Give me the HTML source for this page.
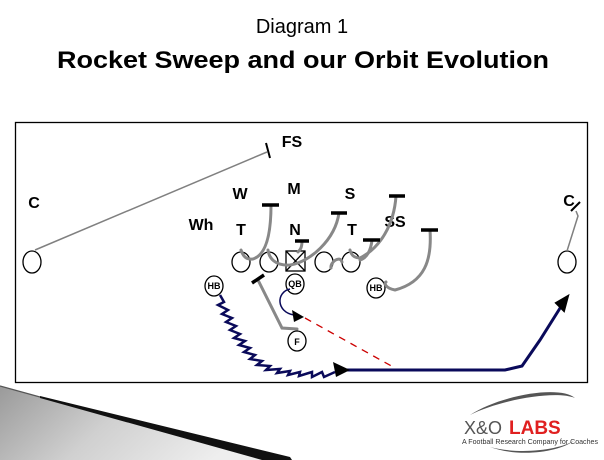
<!DOCTYPE html>
<html><head><style>
html,body{margin:0;padding:0;background:#fff;}
svg{display:block;}
text{font-family:"Liberation Sans",Arial,sans-serif;}
</style></head><body>
<svg width="604" height="460" viewBox="0 0 604 460" xmlns="http://www.w3.org/2000/svg">
<defs>
<linearGradient id="g" x1="0" y1="0" x2="1" y2="0.3">
<stop offset="0" stop-color="#9a9a9a"/><stop offset="0.5" stop-color="#d0d0d0"/><stop offset="1" stop-color="#eeeeee"/>
</linearGradient>
</defs>
<text x="302" y="33" font-size="20" text-anchor="middle">Diagram 1</text>
<text x="303" y="68" font-size="24" font-weight="bold" text-anchor="middle" textLength="492" lengthAdjust="spacingAndGlyphs">Rocket Sweep and our Orbit Evolution</text>

<polygon points="0,386 270,460 0,460" fill="url(#g)"/>
<polygon points="40,396 290,457 292,460 262,460 40,398" fill="#111"/>
<line x1="0" y1="386" x2="40" y2="397" stroke="#555" stroke-width="1.2"/>

<rect x="15.5" y="122.5" width="572" height="260" fill="none" stroke="#000" stroke-width="1.3"/>

<g fill="none" stroke="#000" stroke-width="1.3">
<ellipse cx="32" cy="262" rx="9" ry="11"/>
<ellipse cx="241" cy="262" rx="9" ry="10"/>
<ellipse cx="269" cy="262" rx="9" ry="10"/>
<rect x="286" y="251" width="19" height="20"/>
<line x1="286" y1="251" x2="305" y2="271"/><line x1="305" y1="251" x2="286" y2="271"/>
<ellipse cx="324" cy="262" rx="9" ry="10"/>
<ellipse cx="351" cy="262" rx="9" ry="10"/>
<ellipse cx="567" cy="262" rx="9" ry="11"/>
<ellipse cx="214" cy="286" rx="9" ry="10"/>
<ellipse cx="295" cy="284" rx="9" ry="10"/>
<ellipse cx="376" cy="288" rx="9" ry="10"/>
<ellipse cx="297" cy="341" rx="9" ry="10"/>
</g>
<g font-size="9" font-weight="bold" text-anchor="middle">
<text x="214" y="289">HB</text><text x="295" y="287">QB</text><text x="376" y="291">HB</text><text x="297" y="345">F</text>
</g>

<g font-size="16" font-weight="bold" text-anchor="middle">
<text x="292" y="147">FS</text><text x="34" y="208">C</text><text x="240" y="199">W</text><text x="294" y="194">M</text>
<text x="350" y="199">S</text><text x="201" y="230">Wh</text><text x="241" y="235">T</text><text x="295" y="235">N</text>
<text x="352" y="235">T</text><text x="395" y="227">SS</text><text x="569" y="206">C</text>
</g>

<g fill="none" stroke="#808080" stroke-width="1.5">
<line x1="35" y1="250" x2="267" y2="152"/>
<polyline points="567,251 578,216 576,211"/>
</g>
<g stroke="#000" stroke-width="2">
<line x1="266" y1="143" x2="270" y2="158"/>
<line x1="571" y1="211" x2="580" y2="202"/>
</g>
<g fill="none" stroke="#888" stroke-width="3" stroke-linecap="round">
<path d="M271,205 C271,235 266,255 253,259 C246,260 243,256 241,250"/>
<path d="M339,213 C335,240 310,262 290,265 C275,266 269,258 268,250"/>
<path d="M396,196 C394,225 380,248 360,258 C353,258 351,254 350,250"/>
<path d="M372,240 C371,250 367,258 360,260"/>
<path d="M430,230 C432,260 425,282 395,290 C385,288 384,283 386,282"/>
<path d="M302,241 C302,248 300,250 298,252"/>
<path d="M342,262 C340,255 330,262 331,268"/>
<polyline points="258,280 282,328 297,329"/>
</g>
<g stroke="#000" stroke-width="3.5">
<line x1="262" y1="205" x2="279" y2="205"/>
<line x1="331" y1="213" x2="347" y2="213"/>
<line x1="295" y1="241" x2="309" y2="241"/>
<line x1="363" y1="240" x2="380" y2="240"/>
<line x1="389" y1="196" x2="405" y2="196"/>
<line x1="421" y1="230" x2="438" y2="230"/>
<line x1="252" y1="283" x2="264" y2="275"/>
</g>

<line x1="305" y1="318" x2="395" y2="368" stroke="#c00" stroke-width="1.3" stroke-dasharray="7,6"/>

<g fill="none" stroke="#0a0a5a">
<path d="M290,289 C276,292 276,312 294,315" stroke-width="1.5"/>
<polyline stroke-width="2.5" points="220,295 224,302 218,305 228,310 222,314 232,318 226,322 236,326 230,330 240,334 234,338 245,341 239,345 250,348 244,352 255,355 250,359 262,361 257,365 270,366 266,370 280,369 277,373 290,371 288,375 300,372 299,376 312,372 312,377 322,372 324,377 335,372"/>
<polyline stroke-width="3" points="340,370 505,370 522,366 540,340 562,305"/>
</g>
<polygon points="304,317 292,310 294,322" fill="#000"/>
<polygon points="350,370 333,362 336,377" fill="#000"/>
<polygon points="568,296 556,303 564,311" fill="#000" stroke="#000" stroke-width="2"/>

<path d="M470,415 C500,395 560,385 575,398 C555,390 500,400 470,415Z" fill="#555"/>
<path d="M490,447 C520,455 560,450 575,440 C560,452 520,458 490,447Z" fill="#555"/>
<text x="464" y="434" font-size="18" fill="#555">X&amp;O</text>
<text x="509" y="434" font-size="19" font-weight="bold" fill="#e02020">LABS</text>
<text x="462" y="444" font-size="7.5" fill="#333" textLength="136" lengthAdjust="spacingAndGlyphs">A Football Research Company for Coaches</text>
</svg>
</body></html>
